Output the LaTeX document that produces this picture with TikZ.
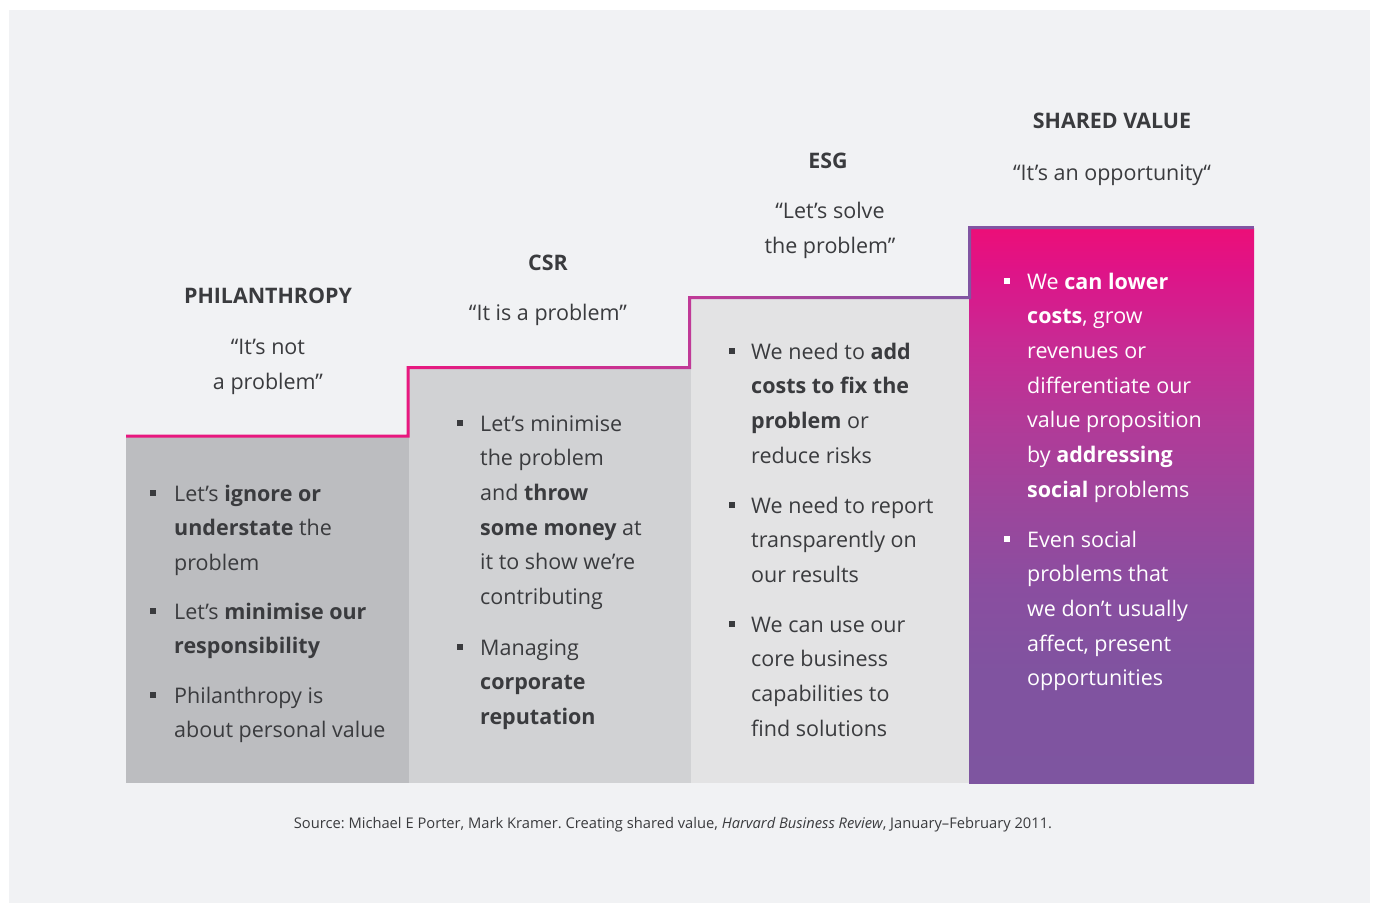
\documentclass[tikz,border=0pt]{standalone}
\usepackage{fontspec}
\setmainfont{Open Sans}
\frenchspacing
\definecolor{bgc}{HTML}{F1F2F4}
\definecolor{txt}{HTML}{3A3B3E}
\definecolor{boxa}{HTML}{BCBDC0}
\definecolor{boxb}{HTML}{D1D2D4}
\definecolor{boxc}{HTML}{E3E3E4}
\definecolor{vpink}{HTML}{EC0F78}
\definecolor{vc1}{HTML}{DE1488}
\definecolor{vc2}{HTML}{C92993}
\definecolor{vc3}{HTML}{B23A98}
\definecolor{vc4}{HTML}{9C469C}
\definecolor{vc5}{HTML}{8A4EA0}
\definecolor{vc6}{HTML}{8053A0}
\definecolor{vpurp}{HTML}{7E55A0}
\definecolor{lpink}{HTML}{E8187F}
\definecolor{lmid}{HTML}{C03A97}
\definecolor{lpurp}{HTML}{8155A2}
\pgfdeclareverticalshading{boxfour}{100bp}{color(0bp)=(vpurp); color(25bp)=(vpurp); color(35bp)=(vc6); color(42.5bp)=(vc5); color(50bp)=(vc4); color(57.5bp)=(vc3); color(65bp)=(vc2); color(71bp)=(vc1); color(75bp)=(vpink); color(100bp)=(vpink)}
\pgfdeclarehorizontalshading{linesh}{100bp}{color(0bp)=(lpink); color(25bp)=(lpink); color(37.5bp)=(lpink); color(50bp)=(lmid); color(62.4bp)=(lpurp); color(75bp)=(lpurp); color(100bp)=(lpurp)}
\tikzset{
  body/.style={font=\fontsize{21.5}{34.7}\selectfont, text=txt, align=left, anchor=base west, inner sep=0pt},
  wbody/.style={body, text=white},
  head/.style={font=\bfseries\fontsize{21.4}{25}\selectfont, text=txt, anchor=base, inner sep=0pt},
  quot/.style={font=\fontsize{21.5}{34.5}\selectfont, text=txt, align=center, anchor=base, inner sep=0pt},
  bul/.style={fill=txt, minimum size=5.5pt, inner sep=0pt},
  wbul/.style={bul, fill=white},
}
\begin{document}
\begin{tikzpicture}[x=1pt,y=-1pt]
\useasboundingbox (0,0) rectangle (1376,903);
\fill[white] (0,0) rectangle (1376,903);
\fill[bgc] (9,10) rectangle (1370,903);
% boxes
\fill[boxa] (126,437) rectangle (409,783);
\fill[boxb] (409,368) rectangle (691,783);
\fill[boxc] (691,298) rectangle (969,783);
\shade[shading=boxfour] (969,228) rectangle (1254,783);
% stepped line
\shade[shading=linesh]
  (126,434.5) rectangle (409.5,437.5)
  (406.5,366) rectangle (409.5,437.5)
  (406.5,366) rectangle (691,369)
  (688,296) rectangle (691,369)
  (688,296) rectangle (971,299)
  (968,226) rectangle (971,299)
  (968,226) rectangle (1254,229);
% headings (base anchor of a multi-line node = its last line)
\node[head] (h1) at (268,303) {PHILANTHROPY};
\node[quot] (q1) at (268,389) {“It’s not\\a problem”};
\node[head] (h2) at (548,270) {CSR};
\node[quot] (q2) at (548,320) {“It is a problem”};
\node[head] (h3) at (828,168) {ESG};
\node[quot] (q3) at (830,253) {“Let’s solve\\the problem”};
\node[head] (h4) at (1112,128) {SHARED VALUE};
\node[quot] (q4) at (1112,180) {“It’s an opportunity“};
% box 1
\node[bul] (b1a) at (153,493) {};
\node[body] (t1a) at (174,570.4) {Let’s \textbf{ignore or}\\\textbf{understate} the\\problem};
\node[bul] (b1b) at (153,611) {};
\node[body] (t1b) at (174,653.7) {Let’s \textbf{minimise our}\\\textbf{responsibility}};
\node[bul] (b1c) at (153,695) {};
\node[body] (t1c) at (174,737.7) {Philanthropy is\\about personal value};
% box 2
\node[bul] (b2a) at (460,423) {};
\node[body] (t2a) at (480,604.5) {Let’s minimise\\the problem\\and \textbf{throw}\\\textbf{some money} at\\it to show we’re\\contributing};
\node[bul] (b2b) at (460,647) {};
\node[body] (t2b) at (480,724.4) {Managing\\\textbf{corporate}\\\textbf{reputation}};
% box 3
\node[bul] (b3a) at (732,351) {};
\node[body] (t3a) at (751,463.1) {We need to \textbf{add}\\\textbf{costs to fix the}\\\textbf{problem} or\\reduce risks};
\node[bul] (b3b) at (732,505) {};
\node[body] (t3b) at (751,582.4) {We need to report\\transparently on\\our results};
\node[bul] (b3c) at (732,624) {};
\node[body] (t3c) at (751,736.1) {We can use our\\core business\\capabilities to\\find solutions};
% box 4
\node[wbul] (b4a) at (1007,281) {};
\node[wbody] (t4a) at (1027,497.2) {We \textbf{can lower}\\\textbf{costs}, grow\\revenues or\\differentiate our\\value proposition\\by \textbf{addressing}\\\textbf{social} problems};
\node[wbul] (b4b) at (1007,539) {};
\node[wbody] (t4b) at (1027,685.8) {Even social\\problems that\\we don’t usually\\affect, present\\opportunities};
% source
\node[font=\fontsize{14.7}{17}\selectfont, text=txt, anchor=base, inner sep=0pt] (src) at (673,828)
  {Source: Michael E Porter, Mark Kramer. Creating shared value, \textit{Harvard Business Review}, January–February 2011.};
\end{tikzpicture}
\end{document}
